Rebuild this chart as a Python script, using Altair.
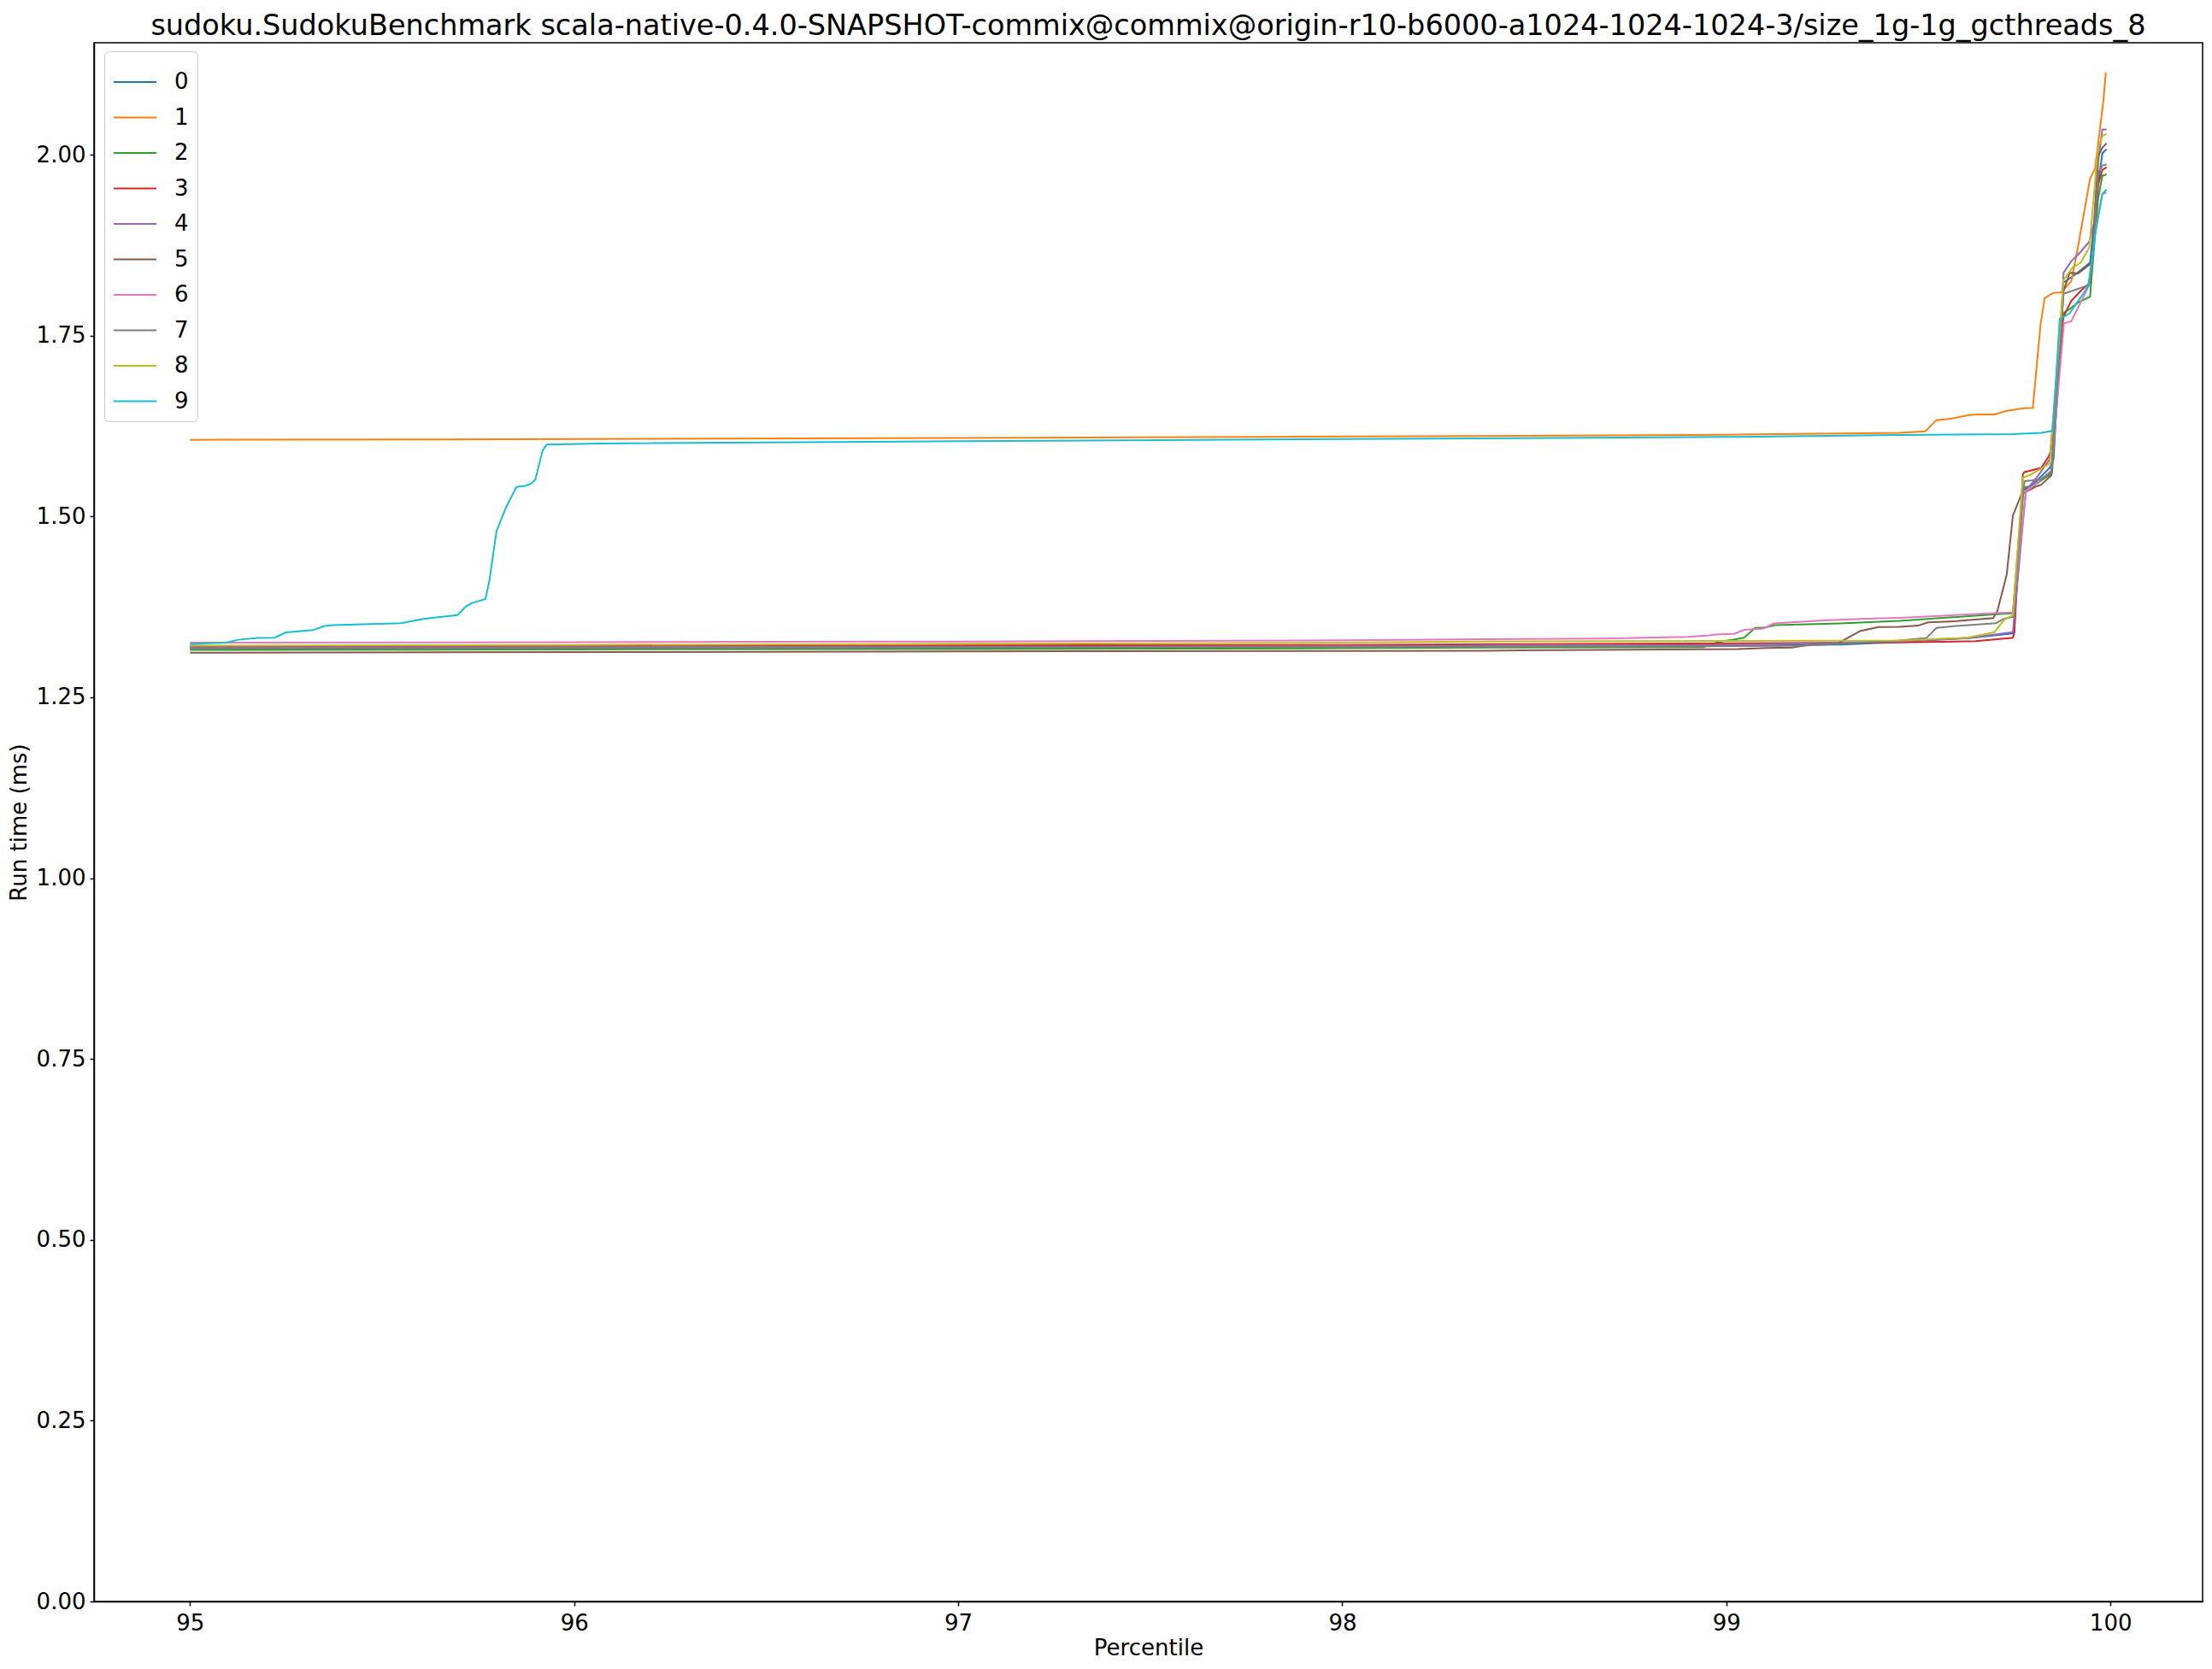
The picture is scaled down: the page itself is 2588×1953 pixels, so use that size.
import altair as alt
import pandas as pd

TITLE = "sudoku.SudokuBenchmark scala-native-0.4.0-SNAPSHOT-commix@commix@origin-r10-b6000-a1024-1024-1024-3/size_1g-1g_gcthreads_8"
RUNS = ["0", "1", "2", "3", "4", "5", "6", "7", "8", "9"]
COLORS = ["#1f77b4", "#ff7f0e", "#2ca02c", "#d62728", "#9467bd",
          "#8c564b", "#e377c2", "#7f7f7f", "#bcbd22", "#17becf"]
X_TICKS = [95, 96, 97, 98, 99, 100]
Y_TICKS = [0.0, 0.25, 0.5, 0.75, 1.0, 1.25, 1.5, 1.75, 2.0]

# run 0
P0 = [95.0, 96.0, 97.0, 98.0, 98.9, 99.3, 99.45, 99.636, 99.748, 99.772, 99.80, 99.842, 99.852,
      99.877, 99.912, 99.947, 99.968, 99.979, 99.990]
V0 = [1.3170, 1.3178, 1.3186, 1.3194, 1.3205, 1.3230, 1.3265, 1.3320, 1.3385, 1.5360, 1.5450, 1.5672, 1.5800,
      1.8230, 1.8360, 1.8510, 1.9600, 2.0020, 2.0080]
# run 1
P1 = [95.0, 96.0, 97.0, 98.0, 99.0, 99.451, 99.518, 99.547, 99.584, 99.628, 99.650, 99.698, 99.728,
      99.772, 99.798, 99.818, 99.829, 99.850, 99.872, 99.898, 99.916, 99.947, 99.960, 99.982, 99.988]
V1 = [1.6060, 1.6070, 1.6085, 1.6105, 1.6130, 1.6158, 1.6177, 1.6332, 1.6352, 1.6398, 1.6410, 1.6410, 1.6457,
      1.6495, 1.6503, 1.7650, 1.8020, 1.8090, 1.8100, 1.8250, 1.8740, 1.9670, 1.9810, 2.0760, 2.1140]
# run 2
P2 = [95.0, 96.0, 97.0, 98.0, 98.367, 98.94, 98.98, 99.046, 99.075, 99.101, 99.127, 99.296, 99.451,
      99.695, 99.746, 99.772, 99.798, 99.848, 99.877, 99.894, 99.916, 99.947, 99.968, 99.979, 99.990]
V2 = [1.3156, 1.3162, 1.3168, 1.3178, 1.3187, 1.3195, 1.3265, 1.3323, 1.3459, 1.3467, 1.3498, 1.3521, 1.3556,
      1.3646, 1.3662, 1.5401, 1.5420, 1.5600, 1.7810, 1.7870, 1.7960, 1.8040, 1.9400, 1.9710, 1.9730]
# run 3
P3 = [95.0, 96.0, 97.0, 98.0, 98.4, 99.45, 99.65, 99.746, 99.750, 99.772, 99.776, 99.820, 99.839,
      99.846, 99.877, 99.898, 99.923, 99.947, 99.968, 99.979, 99.990]
V3 = [1.3203, 1.3210, 1.3218, 1.3225, 1.3234, 1.3258, 1.3277, 1.3324, 1.3400, 1.5580, 1.5614, 1.5672, 1.5828,
      1.5925, 1.7750, 1.7980, 1.8120, 1.8230, 1.9590, 1.9790, 1.9830]
# run 4
P4 = [95.0, 96.0, 97.0, 98.0, 99.0, 99.45, 99.636, 99.746, 99.780, 99.805, 99.842, 99.872, 99.878,
      99.898, 99.916, 99.945, 99.957, 99.968, 99.979, 99.990]
V4 = [1.3188, 1.3193, 1.3198, 1.3205, 1.3225, 1.3273, 1.3324, 1.3401, 1.5362, 1.5517, 1.5789, 1.7650, 1.8370,
      1.8530, 1.8620, 1.8800, 1.9050, 1.9900, 2.0350, 2.0350]
# run 5
P5 = [95.0, 96.0, 97.0, 98.0, 98.367, 99.031, 99.105, 99.171, 99.215, 99.289, 99.348, 99.396, 99.451,
      99.499, 99.525, 99.599, 99.695, 99.706, 99.717, 99.730, 99.740, 99.746, 99.768, 99.805, 99.820,
      99.846, 99.878, 99.894, 99.916, 99.947, 99.953, 99.968, 99.979, 99.990]
V5 = [1.3118, 1.3125, 1.3135, 1.3142, 1.3145, 1.3168, 1.3183, 1.3187, 1.3226, 1.3242, 1.3416, 1.3471, 1.3475,
      1.3491, 1.3537, 1.3553, 1.3596, 1.3700, 1.3926, 1.4197, 1.4702, 1.5012, 1.5304, 1.5412, 1.5439,
      1.5568, 1.8120, 1.8370, 1.8360, 1.8490, 1.8550, 1.9980, 2.0100, 2.0160]
# run 6
P6 = [95.0, 96.0, 97.0, 98.0, 98.367, 98.677, 98.898, 98.950, 98.979, 99.020, 99.046, 99.097, 99.123,
      99.252, 99.363, 99.451, 99.746, 99.780, 99.846, 99.879, 99.898, 99.945, 99.960, 99.979, 99.990]
V6 = [1.3256, 1.3262, 1.3272, 1.3288, 1.3304, 1.3312, 1.3335, 1.3354, 1.3370, 1.3378, 1.3432, 1.3451, 1.3521,
      1.3564, 1.3587, 1.3600, 1.3677, 1.5342, 1.5634, 1.7670, 1.7700, 1.8200, 1.8930, 1.9460, 1.9480]
# run 7
P7 = [95.0, 96.0, 97.0, 98.0, 98.9, 99.2, 99.451, 99.521, 99.547, 99.599, 99.702, 99.724, 99.746,
      99.776, 99.820, 99.846, 99.878, 99.945, 99.953, 99.968, 99.979, 99.990]
V7 = [1.3176, 1.3182, 1.3190, 1.3198, 1.3205, 1.3215, 1.3285, 1.3320, 1.3460, 1.3487, 1.3526, 1.3588, 1.3611,
      1.5486, 1.5517, 1.5614, 1.8080, 1.8200, 1.8510, 1.9750, 1.9850, 1.9870]
# run 8
P8 = [95.0, 96.0, 97.0, 98.0, 98.4, 99.45, 99.628, 99.698, 99.724, 99.746, 99.772, 99.791, 99.842,
      99.878, 99.901, 99.923, 99.945, 99.968, 99.979, 99.990]
V8 = [1.3215, 1.3225, 1.3240, 1.3255, 1.3273, 1.3285, 1.3324, 1.3401, 1.3576, 1.3634, 1.5537, 1.5575, 1.5731,
      1.8270, 1.8440, 1.8510, 1.8720, 2.0100, 2.0260, 2.0290]
# run 9
P9 = [95.0, 95.095, 95.125, 95.176, 95.220, 95.250, 95.320, 95.350, 95.372, 95.549, 95.608, 95.696,
      95.718, 95.733, 95.769, 95.779, 95.798, 95.823, 95.850, 95.873, 95.888, 95.899, 95.918, 95.929,
      96.065, 97.0, 98.0, 99.0, 99.451, 99.746, 99.820, 99.850, 99.868, 99.875, 99.894, 99.942, 99.960,
      99.979, 99.990]
V9 = [1.3235, 1.3257, 1.3296, 1.3320, 1.3324, 1.3398, 1.3429, 1.3487, 1.3499, 1.3526, 1.3584, 1.3638,
      1.3755, 1.3801, 1.3859, 1.4100, 1.4799, 1.5129, 1.5409, 1.5424, 1.5455, 1.5509, 1.5913, 1.5994,
      1.6010, 1.6040, 1.6070, 1.6100, 1.6127, 1.6138, 1.6158, 1.6185, 1.7730, 1.7750, 1.7810, 1.8180, 1.8890,
      1.9460, 1.9520]

P_ALL = [P0, P1, P2, P3, P4, P5, P6, P7, P8, P9]
V_ALL = [V0, V1, V2, V3, V4, V5, V6, V7, V8, V9]

rows = []
for run, ps, vs in zip(RUNS, P_ALL, V_ALL):
    for p, v in zip(ps, vs):
        rows.append({"run": run, "percentile": p, "time": v})
df = pd.DataFrame(rows)

FONT = "DejaVu Sans"

chart = alt.Chart(df).mark_line(strokeWidth=2, clip=True).encode(
    x=alt.X("percentile:Q",
            scale=alt.Scale(domain=[94.75, 100.24], nice=False, zero=False),
            axis=alt.Axis(values=X_TICKS, format="d", title="Percentile",
                          labelFlush=False, labelPadding=7, titlePadding=3)),
    y=alt.Y("time:Q",
            scale=alt.Scale(domain=[0, 2.155], nice=False),
            axis=alt.Axis(values=Y_TICKS, format=".2f", title="Run time (ms)",
                          labelPadding=5, titlePadding=7)),
    color=alt.Color("run:N", title=None,
                    scale=alt.Scale(domain=RUNS, range=COLORS),
                    legend=alt.Legend(orient="none", legendX=12, legendY=10,
                                      symbolType="stroke", symbolSize=2500,
                                      symbolStrokeWidth=2, labelFontSize=26,
                                      labelFont=FONT, labelColor="black",
                                      padding=10, cornerRadius=5,
                                      strokeColor="#cccccc", fillColor="white",
                                      rowPadding=2.5, labelOffset=20)),
).properties(
    width=2467,
    height=1824,
    title=alt.TitleParams(TITLE, fontSize=33.5, font=FONT, fontWeight="normal",
                          anchor="middle", frame="group", offset=2, color="black"),
    autosize=alt.AutoSizeParams(type="none"),
    padding={"left": 102, "top": 42, "right": 3, "bottom": 67},
).configure_view(
    stroke="black", strokeWidth=1.5
).configure_axis(
    grid=False, domainColor="black", tickColor="black", labelColor="black",
    titleColor="black", labelFont=FONT, titleFont=FONT, labelFontSize=26,
    titleFontSize=26, titleFontWeight="normal", tickSize=5, domainWidth=1.5,
    tickWidth=1.5, labelOverlap=False
)

chart.save("out.html", embed_options={"renderer": "svg", "actions": False})
